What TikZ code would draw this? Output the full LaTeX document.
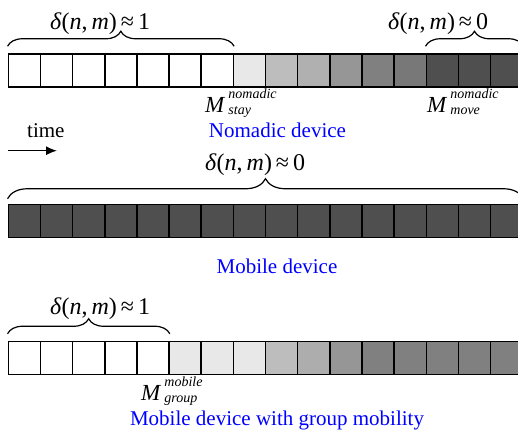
\documentclass[tikz,border=0pt]{standalone}
\usepackage{fontspec}
\setmainfont{Liberation Serif}
\usetikzlibrary{decorations.pathreplacing,arrows.meta}
\definecolor{devblue}{HTML}{0000FF}
\definecolor{gA}{HTML}{E8E8E8}
\definecolor{gB}{HTML}{BDBDBD}
\definecolor{gC}{HTML}{B0B0B0}
\definecolor{gCc}{HTML}{ADADAD}
\definecolor{gD}{HTML}{969696}
\definecolor{gE}{HTML}{808080}
\definecolor{gF}{HTML}{787878}
\definecolor{gG}{HTML}{4F4F4F}
% M with a stacked superscript and subscript
\newcommand\idxfont{\fontsize{14}{14}\selectfont\itshape}
\newcommand\mlabel[2]{{\fontsize{23}{25}\selectfont\textit{M}}\hspace{3pt}\makebox[0pt][l]{\raisebox{14pt}{\idxfont #1}}\raisebox{-2pt}{\idxfont #2}}
% similarity measure
\newcommand\delt[1]{{\fontsize{24}{28}\selectfont\textit{δ}(\textit{n},\,\textit{m})\,≈\,#1}}
\begin{document}
\begin{tikzpicture}[x=1pt,y=1pt,
  every node/.style={font=\fontsize{21}{25}\selectfont},
  cell/.style={draw, line width=1.5pt, minimum width=32.15pt, minimum height=33pt, inner sep=0pt},
  brace/.style={decorate, decoration={brace, amplitude=#1}, line width=1.2pt},
  devlabel/.style={text=devblue, anchor=base, inner sep=0pt},
  mtext/.style={anchor=base west, inner sep=0pt},
  dtext/.style={anchor=base west, inner sep=0pt}]
\useasboundingbox (0,0) rectangle (518,-434);
% nomadic device row
\foreach \c [count=\i] in {white,white,white,white,white,white,white,gA,gB,gC,gD,gE,gF,gG,gG,gG}
  \node[cell, fill=\c] (t\i) at ({8.3+(\i-0.5)*32.15},-70.5) {};
% mobile device row
\foreach \i in {1,...,16}
  \node[cell, fill=gG] (m\i) at ({8.3+(\i-0.5)*32.15},-221) {};
% group mobility row
\foreach \c [count=\i] in {white,white,white,white,white,gA,gA,gA,gB,gCc,gD,gE,gE,gE,gE,gE}
  \node[cell, fill=\c] (b\i) at ({8.3+(\i-0.5)*32.15},-358) {};

% braces
\draw[brace=15pt] ([yshift=7pt]t1.north west) -- ([yshift=7pt]t7.north east);
\draw[brace=15pt] ([yshift=7pt]t14.north west) -- ([yshift=7pt]t16.north east);
\draw[brace=20pt] ([yshift=5pt]m1.north west) -- ([yshift=5pt]m16.north east);
\draw[brace=15pt] ([yshift=7pt]b1.north west) -- ([yshift=7pt]b5.north east);

% brace labels
\node[dtext] (d1) at (50,-29) {\delt{1}};
\node[dtext] (d2) at (388,-29) {\delt{0}};
\node[dtext] (d3) at (205,-170) {\delt{0}};
\node[dtext] (d4) at (50,-314) {\delt{1}};

% thresholds
\node[mtext] (ms) at (205,-112) {\mlabel{nomadic}{stay}};
\node[mtext] (mm) at (427,-112) {\mlabel{nomadic}{move}};
\node[mtext] (mg) at (141,-400) {\mlabel{mobile}{group}};

% device captions
\node[devlabel] (l1) at (277.5,-137) {Nomadic device};
\node[devlabel] (l2) at (277,-273) {Mobile device};
\node[devlabel] (l3) at (277,-425) {Mobile device with group mobility};

% time axis
\node[anchor=base west, inner sep=0pt] (tm) at (27,-137) {time};
\coordinate (ta) at (8,-150.7);
\coordinate (tb) at (57,-150.7);
\draw[line width=1.4pt, -{Latex[length=11pt,width=9pt]}] (ta) -- (tb);
\end{tikzpicture}
\end{document}
